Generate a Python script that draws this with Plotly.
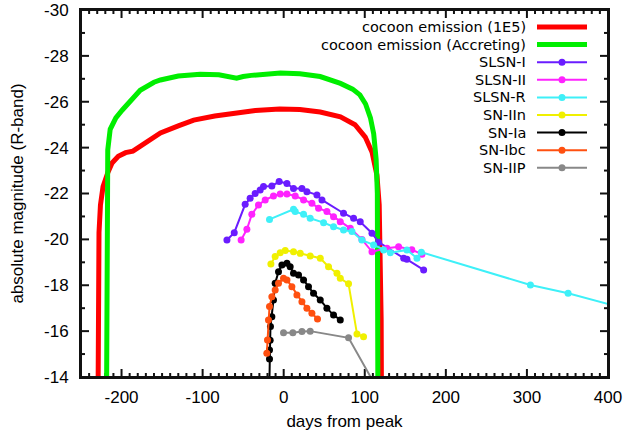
import plotly.graph_objects as go

# ---------------- data ----------------
cocoon_1e5_days = [-229, -228.6, -227.8, -226, -222.8, -217, -211.7, -204, -195, -186, -180,
                   -170, -152, -130, -111, -85, -62, -35, -5, 20, 45, 70, 88, 100.6, 109,
                   115, 117.8, 119.3, 120.2, 120.6]
cocoon_1e5_mag = [-13.0, -18.0, -20.3, -21.5, -22.3, -22.9, -23.33, -23.62, -23.78, -23.85, -23.98,
                  -24.25, -24.64, -24.95, -25.2, -25.38, -25.5, -25.62, -25.68, -25.66, -25.55, -25.34,
                  -25.0, -24.46, -23.8, -22.8, -21.5, -19.5, -16.5, -13.0]

cocoon_acc_days = [-218.5, -218.4, -218.1, -217, -214, -207, -199, -188, -177, -160, -152, -130,
                   -103, -80, -62, -58, -50, -40, -4, 20, 45, 70, 85, 94, 101, 107, 111, 114,
                   115.5, 116, 116.2]
cocoon_acc_mag = [-13.0, -18.0, -21.5, -23.9, -24.8, -25.3, -25.64, -26.1, -26.5, -26.85, -26.95, -27.12,
                  -27.2, -27.18, -27.08, -27.03, -27.1, -27.15, -27.25, -27.22, -27.1, -26.8, -26.55, -26.3,
                  -25.9, -25.3, -24.6, -23.5, -22.0, -18.0, -13.0]

slsn1_days = [-70, -61, -47.5, -41.4, -35.2, -29, -24.9, -14.6, -5.6, 4, 12.1, 22.5, 28.6, 41,
              47.2, 73.8, 86.2, 94.4, 108.9, 117, 148, 152, 172.6]
slsn1_mag = [-19.97, -20.29, -21.53, -21.79, -22.0, -22.15, -22.3, -22.33, -22.52, -22.44, -22.22,
             -22.22, -22.08, -21.94, -21.72, -21.14, -20.92, -20.77, -20.27, -19.88, -19.18, -19.13, -18.67]

slsn2_days = [-52.5, -45.4, -39.3, -31.1, -22.8, -12.6, -4.3, 4, 14.2, 24.5, 34.8, 43, 53.3, 61.5,
              69.8, 82.1, 96.5, 108.9, 127.4, 141.7, 158, 170.5]
slsn2_mag = [-19.97, -20.44, -21.09, -21.5, -21.72, -21.89, -21.98, -21.98, -21.89, -21.72, -21.57,
             -21.36, -21.21, -20.99, -20.77, -20.48, -20.0, -19.46, -19.61, -19.68, -19.55, -19.35]

slsnr_days = [-17.5, 12.1, 14.2, 24.5, 32.7, 49.2, 61.5, 73.8, 84.2, 96.5, 110.9, 123.2, 131.5,
              152, 164.4, 169.8, 304.3, 350.8, 430]
slsnr_mag = [-20.87, -21.31, -21.21, -21.09, -20.92, -20.73, -20.55, -20.41, -20.34, -19.97, -19.76,
             -19.54, -19.42, -19.54, -19.18, -19.44, -18.01, -17.65, -16.9]

sn2n_days = [-15.8, -10.5, -4.3, 1.9, 12.1, 20.4, 32.7, 45.1, 55.3, 65.7, 69.8, 80, 90.4, 98.5]
sn2n_mag = [-18.93, -19.25, -19.42, -19.51, -19.46, -19.39, -19.28, -19.18, -18.81, -18.52, -18.3,
            -18.06, -15.88, -15.76]

sn1a_days = [-18, -17.5, -17.5, -16.7, -16.3, -14.6, -12.6, -10.5, -6.4, -2.2, 4, 8, 12.1, 18.3,
             24.5, 30.6, 36.8, 45.1, 53.3, 61.5, 69.8]
sn1a_mag = [-13.0, -14.79, -15.18, -15.6, -16.2, -16.63, -17.36, -18.09, -18.59, -18.88, -18.96,
            -18.81, -18.52, -18.45, -18.23, -17.94, -17.65, -17.36, -17.0, -16.7, -16.49]

sn1bc_days = [-20.8, -20, -18.8, -17.5, -14.6, -10.5, -6.4, -0.2, 4, 10.1, 16.3, 22.5, 28.6, 34.8, 41.7]
sn1bc_mag = [-15.03, -15.61, -16.49, -17.07, -17.5, -17.79, -18.09, -18.3, -18.23, -17.94, -17.58,
             -17.28, -17.0, -16.78, -16.53]

sn2p_days = [-0.2, 11.3, 22.5, 32.7, 80, 112]
sn2p_mag = [-15.93, -15.93, -15.98, -16.0, -15.71, -13.7]

x_range = [-250, 400]
y_range = [-14, -30]
x_tickvals = [-200, -100, 0, 100, 200, 300, 400]
x_ticktext = ["-200", "-100", "0", "100", "200", "300", "400"]
x_minor_ticks = [v for v in range(-240, 400, 10) if v % 100 != 0]
y_tickvals = [-30, -28, -26, -24, -22, -20, -18, -16, -14]
y_ticktext = ["-30", "-28", "-26", "-24", "-22", "-20", "-18", "-16", "-14"]
y_minor_ticks = [-29, -27, -25, -23, -21, -19, -17, -15]

series_names = ["cocoon emission (1E5)", "cocoon emission (Accreting)", "SLSN-I", "SLSN-II",
                "SLSN-R", "SN-IIn", "SN-Ia", "SN-Ibc", "SN-IIP"]
series_colors = ["#ff0000", "#00ee00", "#6a1cff", "#ff22ff", "#3ef0f8", "#f0f000",
                 "#000000", "#ff5010", "#888888"]

# ---------------- figure ----------------
FONT = "Liberation Sans, Arial, Helvetica, sans-serif"
LEG_FONT = "DejaVu Sans, Liberation Sans, Arial, sans-serif"
W, H = 641, 431
ML, MR, MT, MB = 81, 33, 10, 54
PW, PH = W - ML - MR, H - MT - MB
PX_PER_DAY = PW / (x_range[1] - x_range[0])
PX_PER_MAG = PH / abs(y_range[1] - y_range[0])

fig = go.Figure()

# gnuplot-like inside ticks on all four sides (drawn as a plain trace)
tick_x, tick_y = [], []
for vals, length in ((x_tickvals, 8), (x_minor_ticks, 4)):
    d = length / PX_PER_MAG
    for v in vals:
        tick_x += [v, v, None, v, v, None]
        tick_y += [y_range[0], y_range[0] - d, None, y_range[1], y_range[1] + d, None]
for vals, length in ((y_tickvals, 8), (y_minor_ticks, 4)):
    d = length / PX_PER_DAY
    for v in vals:
        tick_x += [x_range[0], x_range[0] + d, None, x_range[1], x_range[1] - d, None]
        tick_y += [v, v, None, v, v, None]
fig.add_trace(go.Scatter(x=tick_x, y=tick_y, mode="lines", hoverinfo="skip",
                         line=dict(color="#111111", width=2), showlegend=False))

all_series = [
    (cocoon_1e5_days, cocoon_1e5_mag),
    (cocoon_acc_days, cocoon_acc_mag),
    (slsn1_days, slsn1_mag),
    (slsn2_days, slsn2_mag),
    (slsnr_days, slsnr_mag),
    (sn2n_days, sn2n_mag),
    (sn1a_days, sn1a_mag),
    (sn1bc_days, sn1bc_mag),
    (sn2p_days, sn2p_mag),
]

for i, (xs, ys) in enumerate(all_series):
    if i < 2:
        fig.add_trace(go.Scatter(x=xs, y=ys, mode="lines", name=series_names[i],
                                 line=dict(color=series_colors[i], width=5)))
    else:
        fig.add_trace(go.Scatter(x=xs, y=ys, mode="lines+markers", name=series_names[i],
                                 line=dict(color=series_colors[i], width=2),
                                 marker=dict(color=series_colors[i], size=7)))


# manual legend (text right-aligned, sample on the right, like the original)
def px2x(px):
    return (px - ML) / PW


def py2y(py):
    return (MT + PH - py) / PH


for i, name in enumerate(series_names):
    row = 27 + i * 17.6
    fig.add_annotation(x=px2x(527), y=py2y(row), xref="paper", yref="paper",
                       text=name, showarrow=False, xanchor="right", yanchor="middle",
                       borderpad=0,
                       font=dict(family=LEG_FONT, size=14.5, color="black"))
    lw = 5 if i < 2 else 2
    fig.add_shape(type="line", xref="paper", yref="paper",
                  x0=px2x(537), x1=px2x(587), y0=py2y(row), y1=py2y(row),
                  line=dict(color=series_colors[i], width=lw))
    if i >= 2:
        fig.add_shape(type="circle", xref="paper", yref="paper",
                      xsizemode="pixel", ysizemode="pixel",
                      xanchor=px2x(562), yanchor=py2y(row),
                      x0=-3.5, x1=3.5, y0=-3.5, y1=3.5,
                      fillcolor=series_colors[i], line=dict(width=0))

# plot border
fig.add_shape(type="rect", xref="paper", yref="paper", x0=0, x1=1, y0=0, y1=1,
              line=dict(color="#111111", width=2), fillcolor="rgba(0,0,0,0)", layer="above")

fig.update_xaxes(range=x_range, tickmode="array", tickvals=x_tickvals, ticktext=x_ticktext,
                 showgrid=False, zeroline=False, showline=True, linecolor="#111111", linewidth=2,
                 mirror=True, ticks="", ticklabelstandoff=4,
                 tickfont=dict(family=FONT, size=17, color="black"), automargin=False,
                 title=dict(text="days from peak", font=dict(family=FONT, size=17, color="black"),
                            standoff=14))
fig.update_yaxes(range=y_range, tickmode="array", tickvals=y_tickvals, ticktext=y_ticktext,
                 showgrid=False, zeroline=False, showline=True, linecolor="#111111", linewidth=2,
                 mirror=True, ticks="", ticklabelstandoff=7,
                 tickfont=dict(family=FONT, size=17, color="black"), automargin=False,
                 title=dict(text="absolute magnitude (R-band)",
                            font=dict(family=FONT, size=17, color="black"), standoff=16))

fig.update_layout(width=W, height=H, showlegend=False,
                  margin=dict(l=ML, r=MR, t=MT, b=MB, pad=0),
                  plot_bgcolor="white", paper_bgcolor="white",
                  font=dict(family=FONT, size=17, color="black"))

fig.write_html("out.html", config={"displayModeBar": False},
               post_script="document.body.style.margin='0';document.body.style.padding='0';")
